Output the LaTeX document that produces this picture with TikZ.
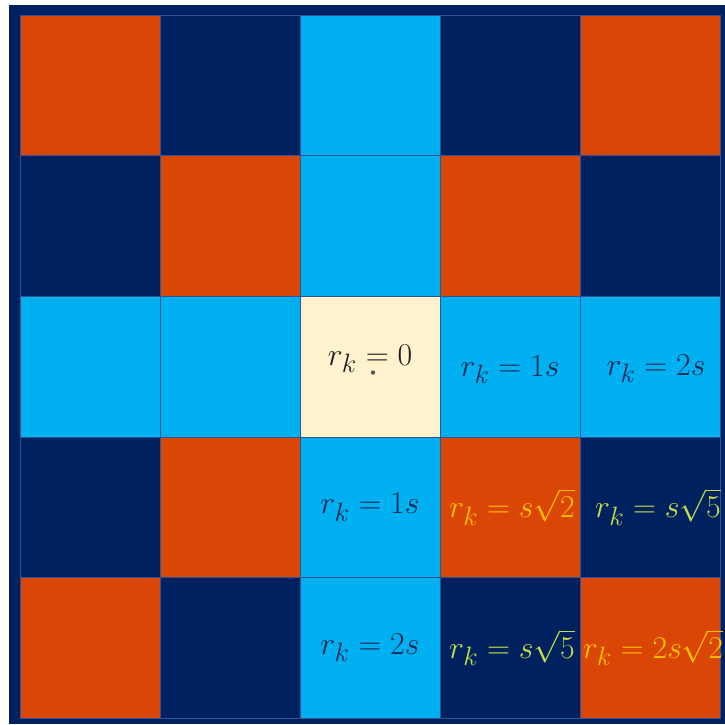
\documentclass[tikz,border=0pt]{standalone}
\usepackage{amsmath}
\definecolor{navy}{RGB}{0,33,96}
\definecolor{orng}{RGB}{218,70,6}
\definecolor{lblue}{RGB}{0,176,240}
\definecolor{cream}{RGB}{255,242,204}
\definecolor{gridc}{RGB}{45,85,150}
\definecolor{yorng}{RGB}{255,192,0}
\definecolor{ygreen}{RGB}{196,222,72}
\definecolor{dtext}{RGB}{30,30,40}
\definecolor{ntext}{RGB}{15,40,85}
\tikzset{
  cell/.style={draw=gridc, line width=0.6pt, minimum width=140pt, minimum height=140.6pt, inner sep=0pt, outer sep=0pt},
  O/.style={cell, fill=orng},
  N/.style={cell, fill=navy},
  B/.style={cell, fill=lblue},
  C/.style={cell, fill=cream},
  lbl/.style={font=\fontsize{24.88}{30}\selectfont, inner sep=0pt, scale=1.28, transform shape},
}
\begin{document}
\begin{tikzpicture}[x=1pt,y=-1pt]
\useasboundingbox (0,0) rectangle (725,724);
\fill[white] (0,0) rectangle (725,724);
\node[fill=navy, minimum width=716pt, minimum height=719pt, inner sep=0pt, anchor=north west] (frame) at (9,5) {};
% row 1
\node[O] (c11) at (90,85.3) {};
\node[N] (c12) at (230,85.3) {};
\node[B] (c13) at (370,85.3) {};
\node[N] (c14) at (510,85.3) {};
\node[O] (c15) at (650,85.3) {};
% row 2
\node[N] (c21) at (90,225.9) {};
\node[O] (c22) at (230,225.9) {};
\node[B] (c23) at (370,225.9) {};
\node[O] (c24) at (510,225.9) {};
\node[N] (c25) at (650,225.9) {};
% row 3
\node[B] (c31) at (90,366.5) {};
\node[B] (c32) at (230,366.5) {};
\node[C] (c33) at (370,366.5) {};
\node[B] (c34) at (510,366.5) {};
\node[B] (c35) at (650,366.5) {};
% row 4
\node[N] (c41) at (90,507.1) {};
\node[O] (c42) at (230,507.1) {};
\node[B] (c43) at (370,507.1) {};
\node[O] (c44) at (510,507.1) {};
\node[N] (c45) at (650,507.1) {};
% row 5
\node[O] (c51) at (90,647.7) {};
\node[N] (c52) at (230,647.7) {};
\node[B] (c53) at (370,647.7) {};
\node[N] (c54) at (510,647.7) {};
\node[O] (c55) at (650,647.7) {};
% labels
\node[lbl, text=dtext] (t33) at ([yshift=8pt]c33.center) {$r_k = 0$};
\fill[gray!70!black] ([xshift=3pt,yshift=-6pt]c33.center) circle (2.2pt) coordinate (origin);
\node[lbl, text=ntext] (t34) at ([yshift=-3pt]c34.center) {$r_k = 1s$};
\node[lbl, text=ntext] (t35) at ([xshift=6pt,yshift=-2pt]c35.center) {$r_k = 2s$};
\node[lbl, text=ntext] (t43) at (c43.center) {$r_k = 1s$};
\node[lbl, text=yorng] (t44) at ([xshift=2pt]c44.center) {$r_k = s\sqrt{2}$};
\node[lbl, text=ygreen] (t45) at ([xshift=8pt]c45.center) {$r_k = s\sqrt{5}$};
\node[lbl, text=ntext] (t53) at (c53.center) {$r_k = 2s$};
\node[lbl, text=ygreen] (t54) at ([xshift=2pt]c54.center) {$r_k = s\sqrt{5}$};
\node[lbl, text=yorng] (t55) at ([xshift=3pt]c55.center) {$r_k = 2s\sqrt{2}$};
\end{tikzpicture}
\end{document}
